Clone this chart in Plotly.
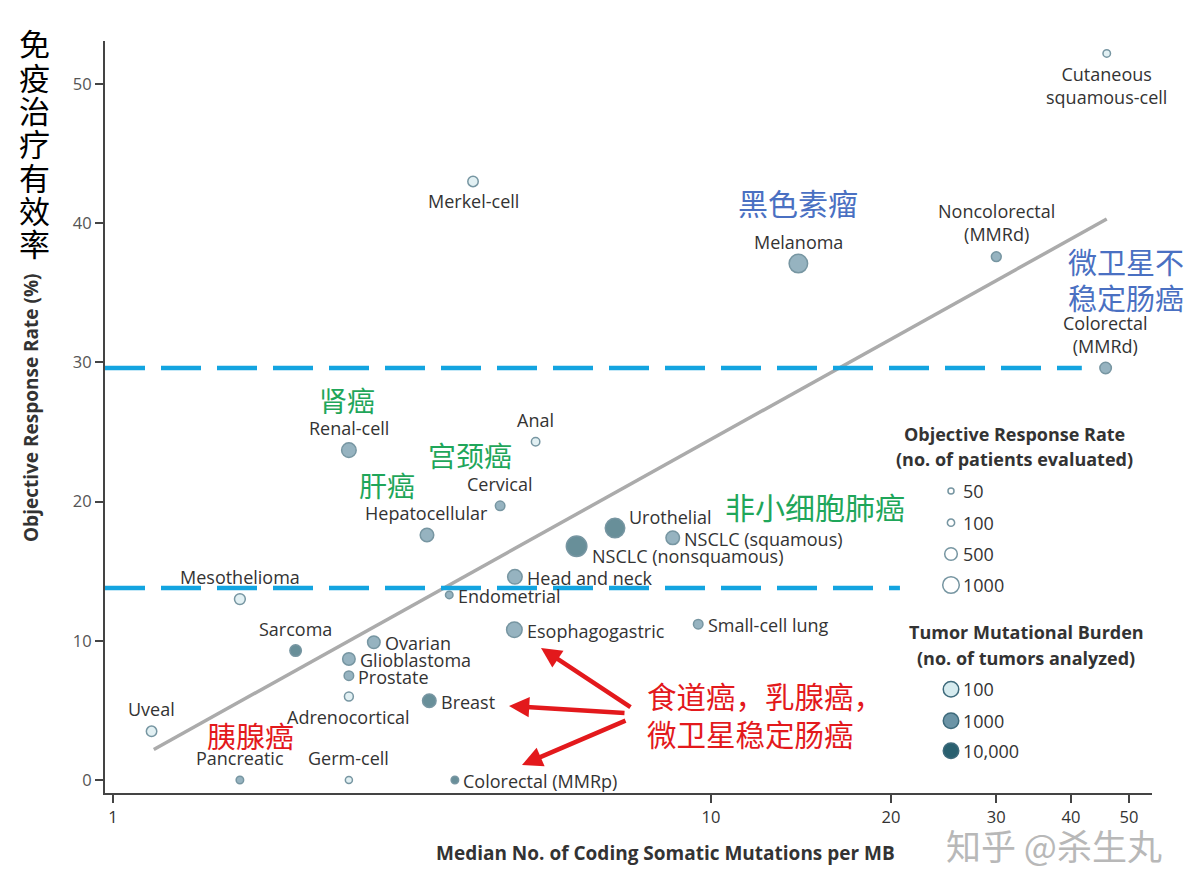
import numpy as np
import plotly.graph_objects as go

# --- dados ---
tumor_types = ["Cutaneous<br>squamous-cell", "Merkel-cell", "Melanoma", "Noncolorectal<br>(MMRd)",
               "Colorectal<br>(MMRd)", "Renal-cell", "Anal", "Cervical", "Hepatocellular", "Urothelial",
               "NSCLC (nonsquamous)", "NSCLC (squamous)", "Head and neck", "Endometrial", "Mesothelioma",
               "Sarcoma", "Ovarian", "Glioblastoma", "Prostate", "Adrenocortical", "Breast", "Uveal",
               "Pancreatic", "Germ-cell", "Colorectal (MMRp)", "Esophagogastric", "Small-cell lung"]
mutations_per_mb = [45.9, 4.0, 14.0, 30.0, 45.7, 2.48, 5.09, 4.44, 3.35, 6.91,
                    5.96, 8.63, 4.70, 3.65, 1.63, 2.02, 2.73, 2.48, 2.48, 2.48,
                    3.38, 1.16, 1.63, 2.48, 3.73, 4.69, 9.52]
response_rate = [52.2, 43.0, 37.1, 37.6, 29.6, 23.7, 24.3, 19.7, 17.6, 18.1,
                 16.8, 17.4, 14.6, 13.3, 13.0, 9.3, 9.9, 8.7, 7.5, 6.0,
                 5.7, 3.5, 0.0, 0.0, 0.0, 10.8, 11.2]
patients_evaluated = [110, 300, 1300, 250, 390, 720, 160, 230, 600, 1470,
                      1660, 600, 720, 110, 330, 390, 490, 490, 230, 190,
                      600, 300, 110, 90, 110, 850, 230]
tumors_analyzed = [100, 100, 1000, 1000, 1000, 1000, 100, 1000, 1000, 10000,
                   10000, 1000, 1000, 1000, 100, 10000, 1000, 1000, 1000, 100,
                   10000, 100, 1000, 100, 10000, 1000, 1000]
label_side = ["below", "below", "above", "above", "above", "above", "above", "above", "above", "upright",
              "lowright", "right", "right", "right", "above", "above", "right", "right", "right", "below",
              "right", "above", "above", "above", "right", "right", "right"]

trend_x = [1.17, 45.9]
trend_y = [2.2, 40.3]
threshold_y = [29.6, 13.8]
threshold_x_end = [41.7, 20.7]

x_tickvals = [1, 10, 20, 30, 40, 50]
y_tickvals = [0, 10, 20, 30, 40, 50]

legend_orr_values = [50, 100, 500, 1000]
legend_tmb_values = [100, 1000, 10000]
legend_tmb_labels = ["100", "1000", "10,000"]

# --- geometria: coordenadas de página (a página tem margem de 8px) ---
OFF = 8
W, H = 1194 - 2 * OFF, 892 - 2 * OFF
PL, PR, PT, PB = 105, 1152, 41, 793
x_range = [-0.0134, 1.7375]
y_range = [-0.93, 53.09]

FONT = "Open Sans"
CJK = "Noto Sans CJK SC"
OUTLINE = "#3e6a7b"
TXT = "#333333"
LBL = 18
colorscale = [[0, "#d6ebef"], [0.5, "#6b94a6"], [1, "#29606f"]]


def diametro(n):
    return 4.5 + 0.43 * np.sqrt(n)


def px(x, y):
    # pixel da página -> coordenadas 'paper'
    return (x - PL) / (PR - PL), (PB - y) / (PB - PT)


diam = diametro(np.array(patients_evaluated))

fig = go.Figure()

# linha de tendência
fig.add_trace(go.Scatter(x=trend_x, y=trend_y, mode="lines",
                         line=dict(color="#ababab", width=3.5), hoverinfo="skip"))

# linhas tracejadas azuis
x_left = 10 ** x_range[0]
for yv, xe in zip(threshold_y, threshold_x_end):
    fig.add_trace(go.Scatter(x=[x_left, xe], y=[yv, yv], mode="lines",
                             line=dict(color="#13a4e0", width=4.5, dash="40px,16px"), hoverinfo="skip"))

# pontos
fig.add_trace(go.Scatter(
    x=mutations_per_mb, y=response_rate, mode="markers",
    text=tumor_types,
    marker=dict(size=diam - 1.5, color=np.log10(tumors_analyzed), colorscale=colorscale,
                cmin=2, cmax=4, line=dict(color=OUTLINE, width=1.5)),
    hovertemplate="%{text}<br>%{x}<br>%{y}%<extra></extra>"))

annotations = []
for name, xv, yv, d, side in zip(tumor_types, mutations_per_mb, response_rate, diam, label_side):
    nl = name.count("<br>") + 1
    a = dict(x=np.log10(xv), y=yv, xref="x", yref="y", text=name, showarrow=False,
             font=dict(family=FONT, size=LBL, color=TXT))
    if side == "above":
        a.update(xanchor="center", yanchor="middle", yshift=22 + (nl - 1) * 12)
    elif side == "below":
        a.update(xanchor="center", yanchor="middle", yshift=-(20 + (nl - 1) * 12))
    else:
        dy = {"right": -1, "upright": 11, "lowright": -10}[side]
        a.update(xanchor="left", yanchor="middle", xshift=d / 2 + 2, yshift=dy)
    annotations.append(a)

# --- eixo auxiliar em pixels de página para legenda e setas ---
fig.update_layout(
    xaxis2=dict(range=[PL, PR], overlaying="x", visible=False, fixedrange=True),
    yaxis2=dict(range=[PB, PT], overlaying="y", visible=False, fixedrange=True),
)


def px_text(x, y, text, size=LBL, color=TXT, family=FONT, xanchor="center", bold=False, angle=0):
    t = f"<b>{text}</b>" if bold else text
    xp, yp = px(x, y)
    return dict(x=xp, y=yp, xref="paper", yref="paper", text=t, showarrow=False, xanchor=xanchor,
                yanchor="middle", textangle=angle, font=dict(family=family, size=size, color=color))


# títulos dos eixos
annotations.append(px_text(665, 853, "Median No. of Coding Somatic Mutations per MB", size=19, bold=True))
annotations.append(px_text(31, 408, "Objective Response Rate (%)", size=19, bold=True, angle=-90))

# legenda
annotations.append(px_text(1014, 434, "Objective Response Rate", size=18, bold=True))
annotations.append(px_text(1014, 459, "(no. of patients evaluated)", size=18, bold=True))
annotations.append(px_text(1026, 632, "Tumor Mutational Burden", size=18, bold=True))
annotations.append(px_text(1026, 658, "(no. of tumors analyzed)", size=18, bold=True))

orr_y = [491, 522.7, 554, 585]
tmb_y = [689.3, 720.7, 750.7]
fig.add_trace(go.Scatter(
    x=[951] * len(legend_orr_values), y=orr_y, xaxis="x2", yaxis="y2", mode="markers",
    marker=dict(size=diametro(np.array(legend_orr_values)) - 1.5, color="white",
                line=dict(color=OUTLINE, width=1.5)), hoverinfo="skip"))
fig.add_trace(go.Scatter(
    x=[951] * len(legend_tmb_values), y=tmb_y, xaxis="x2", yaxis="y2", mode="markers",
    marker=dict(size=15.5, color=np.log10(legend_tmb_values), colorscale=colorscale, cmin=2, cmax=4,
                line=dict(color=OUTLINE, width=1.5)), hoverinfo="skip"))
for v, yy in zip(legend_orr_values, orr_y):
    annotations.append(px_text(961, yy, str(v), xanchor="left"))
for lab, yy in zip(legend_tmb_labels, tmb_y):
    annotations.append(px_text(961, yy, lab, xanchor="left"))

# anotações em chinês
BLUE, GREEN, RED = "#4a70c2", "#1fa65a", "#e3191c"
annotations += [
    px_text(798, 202, "黑色素瘤", size=30, color=BLUE, family=CJK),
    px_text(1126, 261, "微卫星不", size=29, color=BLUE, family=CJK),
    px_text(1126, 297, "稳定肠癌", size=29, color=BLUE, family=CJK),
    px_text(347, 400, "肾癌", size=28, color=GREEN, family=CJK),
    px_text(470, 455, "宫颈癌", size=28, color=GREEN, family=CJK),
    px_text(387, 485, "肝癌", size=28, color=GREEN, family=CJK),
    px_text(815, 506, "非小细胞肺癌", size=30, color=GREEN, family=CJK),
    px_text(250, 735, "胰腺癌", size=29, color=RED, family=CJK),
    px_text(645, 695, "食道癌，乳腺癌，", size=29.5, color=RED, family=CJK, xanchor="left"),
    px_text(645, 733, "微卫星稳定肠癌", size=29.5, color=RED, family=CJK, xanchor="left"),
]

# setas vermelhas
for (hx, hy), (tx, ty) in zip([(541, 648), (509, 706), (522, 765)], [(632, 708), (626, 713), (627, 720)]):
    annotations.append(dict(x=hx, y=hy, xref="x2", yref="y2", ax=tx, ay=ty, axref="x2", ayref="y2",
                            text="", showarrow=True, arrowhead=2, arrowsize=0.9, arrowwidth=4.5,
                            arrowcolor=RED))

# título vertical em chinês
for i, ch in enumerate("免疫治疗有效率"):
    annotations.append(px_text(34, 43 + 33.3 * i, ch, size=31, color="#000000", family=CJK))

# marca d'água
annotations.append(px_text(1054, 845, "知乎 @杀生丸", size=35, color="#b8b8b8", family=CJK))

fig.update_layout(
    width=W, height=H,
    margin=dict(l=PL - OFF, r=W - (PR - OFF), t=PT - OFF, b=H - (PB - OFF)),
    paper_bgcolor="white", plot_bgcolor="white",
    showlegend=False,
    font=dict(family=FONT, size=16, color=TXT),
    xaxis=dict(type="log", range=x_range, tickvals=x_tickvals, ticktext=[str(v) for v in x_tickvals],
               showgrid=False, zeroline=False, showline=True, linecolor="#444444", linewidth=2,
               ticks="outside", ticklen=8, tickwidth=2, tickcolor="#444444",
               tickfont=dict(family=FONT, size=16.5, color=TXT)),
    yaxis=dict(range=y_range, tickvals=y_tickvals,
               showgrid=False, zeroline=False, showline=True, linecolor="#444444", linewidth=2,
               ticks="outside", ticklen=8, tickwidth=2, tickcolor="#444444",
               tickfont=dict(family=FONT, size=16.5, color="#555555")),
    annotations=annotations,
)

fig.write_html("out.html")
